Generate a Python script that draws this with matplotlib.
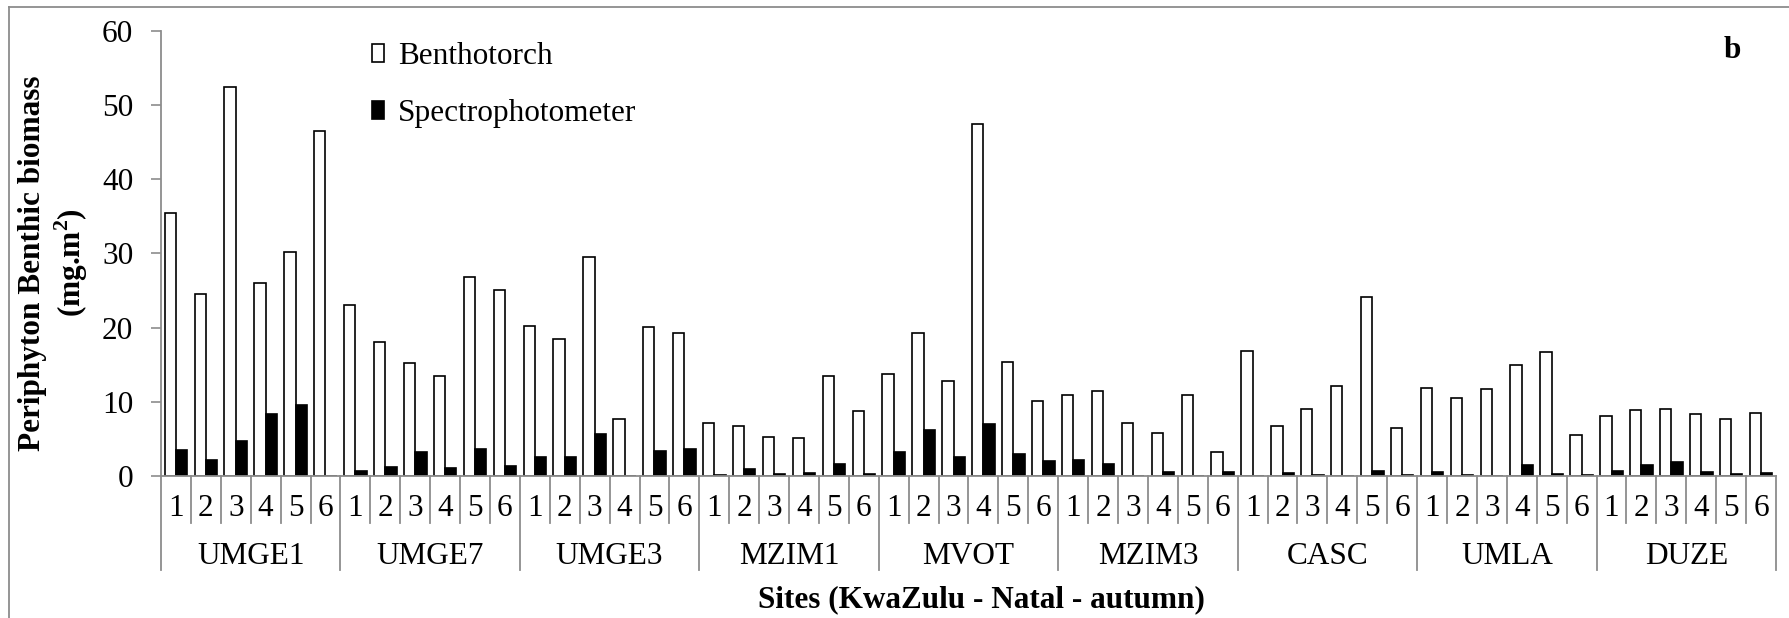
import numpy as np
import matplotlib
matplotlib.use("Agg")
import matplotlib.pyplot as plt
from matplotlib.patches import Patch
from matplotlib.lines import Line2D

plt.rcParams['font.family'] = ['Liberation Serif', 'DejaVu Serif']
plt.rcParams['mathtext.fontset'] = 'custom'
plt.rcParams['mathtext.rm'] = 'Liberation Serif'
plt.rcParams['mathtext.bf'] = 'Liberation Serif:bold'

sites = ['UMGE1', 'UMGE7', 'UMGE3', 'MZIM1', 'MVOT', 'MZIM3', 'CASC', 'UMLA', 'DUZE']
replicates = ['1', '2', '3', '4', '5', '6']

benthotorch = [
    35.4, 24.6, 52.5, 26.0, 30.2, 46.5,   # UMGE1
    23.0, 18.1, 15.2, 13.5, 26.8, 25.1,   # UMGE7
    20.2, 18.5, 29.5, 7.7, 20.1, 19.3,    # UMGE3
    7.2, 6.8, 5.2, 5.1, 13.5, 8.8,        # MZIM1
    13.7, 19.3, 12.8, 47.5, 15.4, 10.1,   # MVOT
    10.9, 11.5, 7.2, 5.8, 10.9, 3.3,      # MZIM3
    16.9, 6.7, 9.0, 12.2, 24.2, 6.5,      # CASC
    11.9, 10.5, 11.7, 14.9, 16.7, 5.5,    # UMLA
    8.1, 8.9, 9.0, 8.3, 7.7, 8.5,         # DUZE
]
spectrophotometer = [
    3.5, 2.1, 4.7, 8.4, 9.6, 0.05,
    0.7, 1.2, 3.2, 1.1, 3.6, 1.35,
    2.5, 2.6, 5.6, 0.05, 3.4, 3.6,
    0.1, 1.0, 0.3, 0.35, 1.6, 0.3,
    3.2, 6.2, 2.5, 7.0, 3.0, 2.0,
    2.2, 1.6, 0.05, 0.6, 0.05, 0.5,
    0.05, 0.4, 0.2, 0.05, 0.7, 0.2,
    0.5, 0.2, 0.05, 1.5, 0.3, 0.2,
    0.7, 1.5, 1.9, 0.5, 0.3, 0.45,
]

grey = '#8c8c8c'
fs = 22.5
n = len(benthotorch)
x = np.arange(n)
w = 0.378

fig = plt.figure(figsize=(17.9, 6.18), dpi=100)
ax = fig.add_axes([161 / 1790, 1 - 476 / 618, 1615 / 1790, 445 / 618])

ax.bar(x - w / 2, benthotorch, w, color='white', edgecolor='black', linewidth=1.2)
ax.bar(x + w / 2, spectrophotometer, w, color='black', edgecolor='black', linewidth=1.2)

ax.set_xlim(-0.5, n - 0.5)
ax.set_ylim(0, 60)
ax.set_yticks(range(0, 61, 10))
ax.tick_params(axis='y', direction='out', length=7, width=1.2, color=grey,
               labelsize=fs, pad=13)
ax.set_xticks([])
for side in ['top', 'right']:
    ax.spines[side].set_visible(False)
for side in ['left', 'bottom']:
    ax.spines[side].set_color(grey)
    ax.spines[side].set_linewidth(1.3)

# two-level category axis below the bars
tr = ax.get_xaxis_transform()
for i in range(n + 1):
    bottom = -0.211 if i % 6 == 0 else -0.106
    ax.add_line(Line2D([i - 0.5, i - 0.5], [0, bottom], transform=tr,
                       color=grey, linewidth=1.3, clip_on=False))
for i in range(n):
    ax.text(i, -0.072, replicates[i % 6], transform=tr, ha='center', va='center',
            fontsize=fs)
for g, name in enumerate(sites):
    ax.text(g * 6 + 2.5, -0.182, name, transform=tr, ha='center', va='center',
            fontsize=fs)

handles = [Patch(facecolor='white', edgecolor='black', linewidth=1.2),
           Patch(facecolor='black', edgecolor='black', linewidth=1.2)]
ax.legend(handles, ['Benthotorch', 'Spectrophotometer'], loc='upper left',
          bbox_to_anchor=(0.1305, 0.975), frameon=False, fontsize=fs,
          handlelength=0.38, handleheight=0.48, handletextpad=0.45,
          labelspacing=0.9, borderpad=0, borderaxespad=0)

fig.text(1732 / 1790, 1 - 50 / 618, 'b', fontsize=fs, fontweight='bold',
         ha='center', va='center')
fig.text(54 / 1790, 1 - 263 / 618, 'Periphyton Benthic biomass\n(mg.m$^\\mathbf{2}$)',
         rotation=90, fontsize=fs, fontweight='bold', ha='center', va='center',
         multialignment='center', linespacing=1.2)
fig.text(981 / 1790, 1 - 600 / 618, 'Sites (KwaZulu - Natal - autumn)', fontsize=fs,
         fontweight='bold', ha='center', va='center')

# chart frame
fig.add_artist(Line2D([9 / 1790, 9 / 1790], [0, 1 - 7 / 618], color=grey, linewidth=1.3))
fig.add_artist(Line2D([9 / 1790, 1], [1 - 7 / 618, 1 - 7 / 618], color=grey, linewidth=1.3))

fig.savefig('out.png', dpi=100)
